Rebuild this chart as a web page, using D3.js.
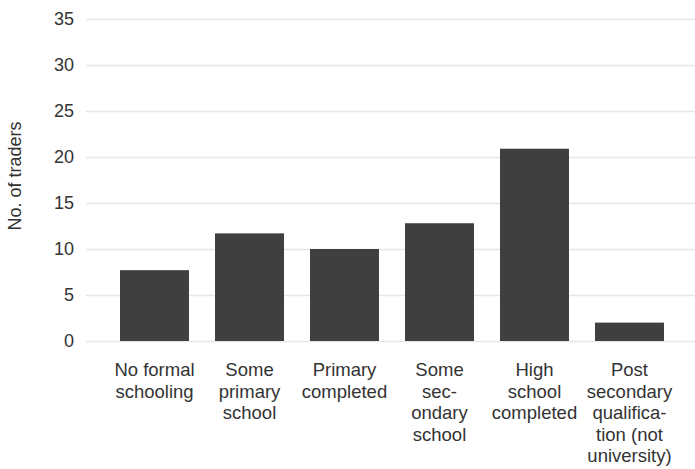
<!DOCTYPE html>
<html>
<head>
<meta charset="utf-8">
<script src="https://cdn.jsdelivr.net/npm/d3@7"></script>
<style>
  html, body { margin: 0; padding: 0; background: #fff; }
  svg { display: block; font-family: "Liberation Sans", Arial, Helvetica, sans-serif; }
</style>
</head>
<body>
<svg id="chart" width="695" height="469"></svg>
<script>
const categories = [
  "No formal schooling",
  "Some primary school",
  "Primary completed",
  "Some secondary school",
  "High school completed",
  "Post secondary qualification (not university)"
];
const categoryLines = [
  ["No formal", "schooling"],
  ["Some", "primary", "school"],
  ["Primary", "completed"],
  ["Some", "sec-", "ondary", "school"],
  ["High", "school", "completed"],
  ["Post", "secondary", "qualifica-", "tion (not", "university)"]
];
const values = [7.7, 11.7, 10.0, 12.8, 20.9, 2.0];
const yTicks = [0, 5, 10, 15, 20, 25, 30, 35];
const yTitle = "No. of traders";

const svg = d3.select("#chart");
const W = 695;
const plotLeft = 86;

const x = d3.scaleBand()
  .domain(categories)
  .range([107, 677])
  .paddingInner(0.274)
  .paddingOuter(0.137);

const y = d3.scaleLinear().domain([0, 35]).range([341, 19]);

// gridlines + y tick labels
const yAxis = d3.axisLeft(y).tickValues(yTicks).tickSize(-(W - plotLeft)).tickPadding(12);
const gy = svg.append("g").attr("transform", `translate(${plotLeft},0)`).call(yAxis);
gy.select(".domain").remove();
gy.selectAll(".tick line").attr("stroke", "#e6e6e6").attr("stroke-width", 1.5);
gy.selectAll(".tick text")
  .attr("fill", "#333")
  .attr("font-size", 18)
  .attr("font-family", "'Liberation Sans', Arial, sans-serif")
  .attr("x", -12);

// bars
svg.append("g").selectAll("rect")
  .data(values)
  .join("rect")
  .attr("x", (d, i) => x(categories[i]))
  .attr("width", x.bandwidth())
  .attr("y", d => y(d))
  .attr("height", d => y(0) - y(d))
  .attr("fill", "#3f3f3f");

// x labels
const xAxis = d3.axisBottom(x).tickSize(0).tickFormat(() => "");
const gx = svg.append("g").attr("transform", `translate(0,${y(0)})`).call(xAxis);
gx.select(".domain").remove();
gx.selectAll(".tick").each(function(d, i) {
  const t = d3.select(this).append("text")
    .attr("text-anchor", "middle")
    .attr("fill", "#333")
    .attr("font-size", 18.5)
    .attr("y", 35);
  categoryLines[i].forEach((ln, k) => {
    t.append("tspan").attr("x", 0).attr("dy", k === 0 ? 0 : 21.5).text(ln);
  });
});

// y title
svg.append("text")
  .attr("transform", `translate(21,${176}) rotate(-90)`)
  .attr("text-anchor", "middle")
  .attr("fill", "#333")
  .attr("font-size", 18)
  .text(yTitle);
</script>
</body>
</html>
